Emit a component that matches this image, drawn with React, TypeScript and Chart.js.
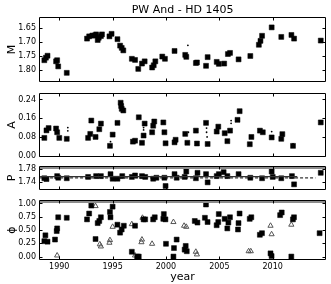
import React, { useEffect, useRef } from 'react';
import { Chart, registerables } from 'chart.js';

Chart.register(...registerables);

const FONT = 'DejaVu Sans';
const TITLE = 'PW And - HD 1405';

// axis ranges / ticks
const yearRange = [1988.1, 2015.0];
const yearTicks = [1990, 1995, 2000, 2005, 2010];
const mRange = [1.61, 1.842];
const mTicks = [1.65, 1.7, 1.75, 1.8];
const aRange = [-0.006, 0.268];
const aTicks = [0.0, 0.08, 0.16, 0.24];
const pRange = [1.7165, 1.79];
const pTicks = [1.74, 1.78];
const phiRange = [-0.065, 1.065];
const phiTicks = [0.0, 0.25, 0.5, 0.75, 1.0];

// M panel
const mYear = [1988.6, 1988.75, 1988.9, 1989.7, 1989.8, 1989.9, 1990.7, 1992.6, 1992.8, 1993.1, 1993.3, 1993.45, 1993.6, 1993.7, 1993.9, 1994.0, 1994.7, 1994.9, 1995.45, 1995.7, 1995.85, 1996.0, 1996.8, 1997.1, 1997.4, 1997.75, 1998.0, 1998.7, 1998.85, 1999.0, 1999.65, 1999.9, 2000.8, 2001.8, 2001.9, 2002.8, 2002.9, 2003.75, 2003.9, 2004.75, 2004.95, 2005.45, 2005.8, 2006.0, 2006.8, 2007.9, 2008.7, 2008.85, 2009.0, 2009.9, 2010.8, 2011.75, 2012.0, 2014.5];
const mVal = [1.764, 1.755, 1.748, 1.768, 1.764, 1.786, 1.809, 1.687, 1.679, 1.676, 1.676, 1.672, 1.692, 1.684, 1.678, 1.672, 1.679, 1.670, 1.689, 1.712, 1.720, 1.729, 1.759, 1.763, 1.795, 1.776, 1.768, 1.790, 1.782, 1.768, 1.751, 1.759, 1.731, 1.745, 1.752, 1.774, 1.772, 1.784, 1.753, 1.770, 1.777, 1.776, 1.742, 1.738, 1.761, 1.749, 1.709, 1.695, 1.677, 1.647, 1.681, 1.674, 1.687, 1.694];
const mDotYear = [2002.05];
const mDotVal = [1.711];

// A panel
const aYear = [1988.6, 1988.8, 1989.0, 1989.7, 1989.8, 1990.0, 1990.7, 1992.7, 1992.9, 1993.0, 1993.4, 1993.75, 1993.9, 1994.75, 1995.0, 1995.45, 1995.75, 1995.8, 1995.85, 1996.0, 1996.9, 1997.1, 1997.45, 1997.75, 1997.9, 1998.0, 1998.7, 1998.8, 1998.9, 1999.75, 1999.85, 1999.96, 2000.8, 2000.9, 2001.8, 2002.0, 2002.8, 2002.9, 2003.75, 2003.9, 2004.75, 2004.9, 2005.5, 2005.75, 2006.0, 2006.7, 2006.9, 2007.85, 2008.0, 2008.8, 2009.07, 2009.9, 2010.8, 2010.9, 2011.9, 2014.5];
const aVal = [0.076, 0.108, 0.118, 0.116, 0.1, 0.076, 0.072, 0.076, 0.093, 0.15, 0.08, 0.113, 0.137, 0.042, 0.09, 0.14, 0.226, 0.212, 0.2, 0.193, 0.06, 0.064, 0.164, 0.055, 0.086, 0.137, 0.1, 0.128, 0.146, 0.142, 0.1, 0.053, 0.057, 0.068, 0.093, 0.055, 0.107, 0.052, 0.14, 0.05, 0.103, 0.124, 0.096, 0.062, 0.107, 0.153, 0.19, 0.049, 0.08, 0.107, 0.1, 0.078, 0.072, 0.092, 0.042, 0.142];
const aDotYear = [1990.8, 1990.8, 1997.9, 1997.9, 2003.8, 2003.8, 2003.85, 2006.1, 2006.1, 2009.9, 2002.1, 1994.8, 2011.9];
const aDotVal = [0.12, 0.106, 0.11, 0.12, 0.118, 0.1, 0.08, 0.15, 0.138, 0.103, 0.1, 0.06, 0.05];

// P panel
const pYear = [1988.6, 1988.8, 1989.8, 1989.9, 1990.7, 1992.7, 1993.45, 1993.9, 1994.8, 1995.0, 1995.45, 1995.9, 1996.8, 1997.1, 1997.75, 1998.05, 1998.8, 1999.1, 1999.85, 1999.96, 2000.8, 2001.0, 2001.75, 2001.9, 2002.8, 2002.95, 2003.75, 2003.9, 2004.75, 2004.95, 2005.4, 2005.75, 2006.8, 2007.9, 2009.0, 2009.9, 2010.0, 2010.8, 2011.8, 2012.0, 2014.5];
const pVal = [1.7525, 1.75, 1.759, 1.754, 1.7525, 1.7565, 1.759, 1.759, 1.765, 1.751, 1.751, 1.759, 1.7565, 1.761, 1.759, 1.7565, 1.751, 1.754, 1.754, 1.729, 1.765, 1.754, 1.7565, 1.773, 1.7525, 1.769, 1.765, 1.74, 1.759, 1.765, 1.771, 1.759, 1.765, 1.754, 1.7525, 1.773, 1.7565, 1.7525, 1.759, 1.734, 1.769];
const pMeanYear = [1988.2, 2012.3];
const pMeanVal = [1.7575, 1.7575];
const pFitYear = [1988.2, 2014.0];
const pFitVal = [1.7535, 1.7535];

// phi panel
const phiSqYear = [1988.6, 1988.7, 1988.9, 1989.6, 1989.76, 1989.8, 1989.9, 1990.7, 1992.6, 1992.8, 1993.0, 1993.4, 1993.6, 1993.75, 1993.9, 1994.75, 1994.8, 1995.0, 1995.45, 1995.7, 1995.85, 1996.05, 1997.1, 1996.8, 1997.3, 1997.45, 1997.9, 1998.05, 1998.8, 1998.95, 1999.75, 1999.8, 1999.95, 2000.0, 2000.7, 2000.75, 2001.0, 2001.75, 2001.85, 2001.95, 2002.7, 2002.95, 2003.75, 2003.65, 2003.9, 2004.75, 2004.9, 2004.95, 2005.5, 2005.75, 2005.85, 2006.0, 2006.75, 2006.8, 2006.9, 2007.85, 2008.0, 2008.8, 2009.0, 2009.8, 2009.9, 2010.7, 2010.85, 2011.9, 2012.0, 2011.75, 2014.4];
const phiSqVal = [0.29, 0.4, 0.28, 0.32, 0.48, 0.53, 0.74, 0.73, 0.7, 0.81, 0.96, 0.33, 0.63, 0.67, 0.74, 0.84, 0.74, 0.94, 0.6, 0.45, 0.51, 0.58, 0.58, 0.09, 0.0, 0.0, 0.7, 0.7, 0.7, 0.74, 0.71, 0.8, 0.7, 0.24, 0.0, 0.16, 0.32, 0.13, 0.2, 0.1, 0.67, 0.64, 0.98, 0.73, 0.65, 0.59, 0.65, 0.8, 0.71, 0.53, 0.64, 0.74, 0.51, 0.63, 0.81, 0.71, 0.74, 0.41, 0.44, 0.06, 0.01, 0.78, 0.83, 0.7, 0.74, 0.0, 0.44];
const phiTriYear = [1989.8, 1993.4, 1993.8, 1993.9, 1994.7, 1994.75, 1995.0, 1996.8, 1997.1, 1997.75, 1997.7, 1997.8, 1998.7, 2000.7, 2001.7, 2001.9, 2002.8, 2002.9, 2007.75, 2007.95, 2009.8, 2009.9, 2011.75];
const phiTriVal = [0.02, 0.95, 0.23, 0.19, 0.26, 0.31, 0.56, 0.61, 0.02, 0.32, 0.27, 0.73, 0.24, 0.65, 0.58, 0.56, 0.09, 0.04, 0.1, 0.1, 0.58, 0.42, 0.6];

const pts = (xs: number[], ys: number[]) => xs.map((x, i) => ({ x, y: ys[i] }));

const sq = (xs: number[], ys: number[]) => ({
  data: pts(xs, ys),
  pointStyle: 'rect',
  pointRadius: 3.5,
  backgroundColor: '#000',
  borderColor: 'rgba(0,0,0,0.55)',
  borderWidth: 0.9,
  showLine: false,
});
const dots = (xs: number[], ys: number[]) => ({
  data: pts(xs, ys),
  pointStyle: 'circle',
  pointRadius: 0.9,
  backgroundColor: '#000',
  borderWidth: 0,
  showLine: false,
});
const tri = (xs: number[], ys: number[]) => ({
  data: pts(xs, ys),
  pointStyle: 'triangle',
  pointRadius: 3,
  backgroundColor: 'rgba(255,255,255,0)',
  borderColor: '#555',
  borderWidth: 1,
  showLine: false,
});
const line = (xs: number[], ys: number[], dash: number[], color: string, w: number) => ({
  data: pts(xs, ys),
  showLine: true,
  borderColor: color,
  borderWidth: w,
  borderDash: dash,
  pointRadius: 0,
  fill: false,
});

const framePlugin = {
  id: 'frame',
  afterDatasetsDraw(chart: any, _args: any, opts: any) {
    const { ctx, chartArea: a } = chart;
    const x = chart.scales.x;
    const y = chart.scales.y;
    ctx.save();
    if (opts.grayTop) {
      ctx.strokeStyle = '#8c8c8c';
      ctx.lineWidth = 2;
      ctx.beginPath();
      ctx.moveTo(a.left, a.top + 2);
      ctx.lineTo(a.right, a.top + 2);
      ctx.stroke();
    }
    ctx.strokeStyle = '#000';
    ctx.lineWidth = 1;
    const L = Math.round(a.left) + 0.5;
    const R = Math.round(a.right) - 0.5;
    const T = Math.round(a.top) + 0.5;
    const B = Math.round(a.bottom) - 0.5;
    ctx.beginPath();
    ctx.rect(L, T, R - L, B - T);
    ctx.stroke();
    ctx.beginPath();
    for (const yr of yearTicks) {
      const px = Math.round(x.getPixelForValue(yr)) + 0.5;
      ctx.moveTo(px, B);
      ctx.lineTo(px, B - 3);
      ctx.moveTo(px, T);
      ctx.lineTo(px, T + 3);
    }
    for (const v of opts.yTicks as number[]) {
      const py = Math.round(y.getPixelForValue(v)) + 0.5;
      ctx.moveTo(L, py);
      ctx.lineTo(L + 3, py);
      ctx.moveTo(R, py);
      ctx.lineTo(R - 3, py);
    }
    ctx.stroke();
    if (opts.title) {
      ctx.fillStyle = '#000';
      ctx.font = `11px "${FONT}"`;
      ctx.textAlign = 'center';
      ctx.textBaseline = 'middle';
      ctx.fillText(opts.title, (a.left + a.right) / 2, 10.5);
    }
    ctx.restore();
  },
};

type PanelCfg = {
  top: number;
  height: number;
  padTop: number;
  padBottom: number;
  yRange: number[];
  yTicks: number[];
  reverse?: boolean;
  yTitle: string;
  datasets: any[];
  title?: string;
  bottom?: boolean;
  grayTop?: boolean;
};

function Panel({ cfg }: { cfg: PanelCfg }) {
  const ref = useRef<HTMLCanvasElement>(null);
  useEffect(() => {
    if (!ref.current) return;
    const chart = new Chart(ref.current, {
      type: 'scatter',
      data: { datasets: cfg.datasets },
      plugins: [framePlugin as any],
      options: {
        animation: false,
        responsive: false,
        maintainAspectRatio: false,
        devicePixelRatio: 1,
        events: [],
        layout: { padding: { top: cfg.padTop, bottom: cfg.padBottom, left: 0, right: 1 } },
        plugins: {
          legend: { display: false },
          tooltip: { enabled: false },
          title: { display: false },
          frame: { grayTop: !!cfg.grayTop, yTicks: cfg.yTicks, title: cfg.title || '' },
        } as any,
        scales: {
          x: {
            type: 'linear',
            min: yearRange[0],
            max: yearRange[1],
            display: !!cfg.bottom,
            grid: { display: false, drawTicks: false },
            border: { display: false },
            afterBuildTicks: (s: any) => {
              s.ticks = yearTicks.map((v) => ({ value: v }));
            },
            afterFit: (s: any) => {
              s.height = cfg.bottom ? 24 : 0;
              s.paddingLeft = 0;
              s.paddingRight = 0;
              s.paddingTop = 0;
              s.paddingBottom = 0;
            },
            ticks: {
              autoSkip: false,
              maxRotation: 0,
              padding: 2,
              color: '#000',
              font: { family: FONT, size: 8 },
              callback: (v: any) => String(v),
            },
            title: {
              display: true,
              text: 'year',
              color: '#000',
              font: { family: FONT, size: 11 },
              padding: { top: 0, bottom: 0 },
            },
          },
          y: {
            type: 'linear',
            min: cfg.yRange[0],
            max: cfg.yRange[1],
            reverse: !!cfg.reverse,
            grid: { display: false, drawTicks: false },
            border: { display: false },
            afterBuildTicks: (s: any) => {
              s.ticks = cfg.yTicks.map((v) => ({ value: v }));
            },
            afterFit: (s: any) => {
              s.width = 39;
              s.paddingTop = 0;
              s.paddingBottom = 0;
              s.paddingLeft = 0;
              s.paddingRight = 0;
            },
            ticks: {
              autoSkip: false,
              padding: 3,
              color: '#000',
              font: { family: FONT, size: 8 },
              callback: (v: any) => Number(v).toFixed(2),
            },
            title: {
              display: true,
              text: cfg.yTitle,
              color: '#000',
              font: { family: FONT, size: 11 },
              padding: { top: 6, bottom: 0 },
            },
          },
        },
      } as any,
    });
    return () => chart.destroy();
  }, []);
  return (
    <canvas
      ref={ref}
      width={331}
      height={cfg.height}
      style={{ position: 'absolute', left: 0, top: cfg.top, width: 331, height: cfg.height }}
    />
  );
}

const panels: PanelCfg[] = [
  {
    top: 0, height: 87, padTop: 17, padBottom: 1,
    yRange: mRange, yTicks: mTicks, reverse: true, yTitle: 'M', title: TITLE,
    datasets: [sq(mYear, mVal), dots(mDotYear, mDotVal)],
  },
  {
    top: 88, height: 74, padTop: 4, padBottom: 2,
    yRange: aRange, yTicks: aTicks, yTitle: 'A',
    datasets: [sq(aYear, aVal), dots(aDotYear, aDotVal)],
  },
  {
    top: 161, height: 34, padTop: 3, padBottom: 1,
    yRange: pRange, yTicks: pTicks, yTitle: 'P', grayTop: true,
    datasets: [
      line(pMeanYear, pMeanVal, [], '#333', 1.2),
      line(pFitYear, pFitVal, [3, 2], '#000', 1),
      sq(pYear, pVal),
    ],
  },
  {
    top: 195, height: 89, padTop: 3, padBottom: 0,
    yRange: phiRange, yTicks: phiTicks, yTitle: 'ϕ', bottom: true, grayTop: true,
    datasets: [sq(phiSqYear, phiSqVal), tri(phiTriYear, phiTriVal)],
  },
];

export default function App() {
  return (
    <div style={{ position: 'fixed', left: 0, top: 0, width: 331, height: 284, background: '#fff' }}>
      {panels.map((p, i) => (
        <Panel key={i} cfg={p} />
      ))}
    </div>
  );
}
